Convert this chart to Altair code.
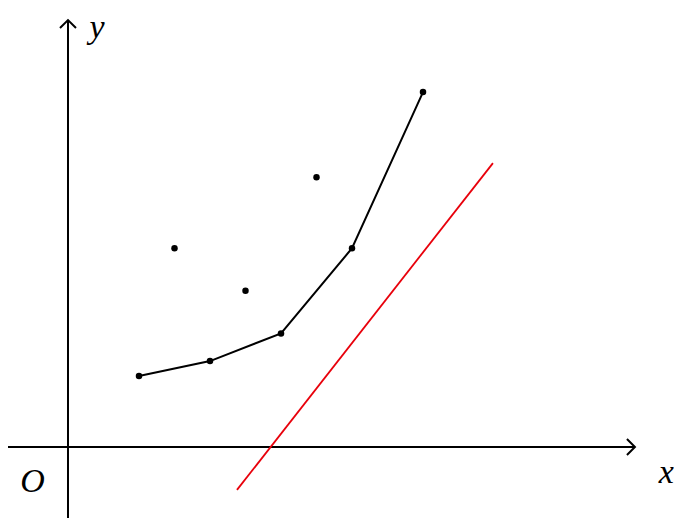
import altair as alt
import pandas as pd

# Data (in plot units)
line_x = [2, 4, 6, 8, 10]
line_y = [2.0, 2.42, 3.2, 5.6, 10.0]
iso_x = [3, 5, 7]
iso_y = [5.6, 4.4, 7.6]
red_x = [4.76, 11.97]
red_y = [-1.21, 8.0]

# Axis extents
x_axis_min, x_axis_max = -1.69, 15.97
y_axis_min, y_axis_max = -2.0, 12.03

XD = [-1.69, 17.07]
YD = [-2.03, 12.37]

xs = alt.Scale(domain=XD, nice=False, zero=False)
ys = alt.Scale(domain=YD, nice=False, zero=False)

def X(f="x"):
    return alt.X(f"{f}:Q", scale=xs, axis=None)

def Y(f="y"):
    return alt.Y(f"{f}:Q", scale=ys, axis=None)

axes_df = pd.DataFrame({
    "x": [x_axis_min, 0.0], "y": [0.0, y_axis_min],
    "x2": [x_axis_max, 0.0], "y2": [0.0, y_axis_max],
})
axes = alt.Chart(axes_df).mark_rule(color="black", strokeWidth=2).encode(
    x=X(), y=Y(), x2="x2:Q", y2="y2:Q"
)

arrow_r = alt.Chart(pd.DataFrame({"x": [x_axis_max], "y": [0.0]})).mark_point(
    shape="M-1,-1L0,0L-1,1", filled=False, size=256, color="black", strokeWidth=2, opacity=1
).encode(x=X(), y=Y())
arrow_u = alt.Chart(pd.DataFrame({"x": [0.0], "y": [y_axis_max]})).mark_point(
    shape="M-1,1L0,0L1,1", filled=False, size=256, color="black", strokeWidth=2, opacity=1
).encode(x=X(), y=Y())

line_df = pd.DataFrame({"x": line_x, "y": line_y})
poly = alt.Chart(line_df).mark_line(color="black", strokeWidth=2).encode(x=X(), y=Y())
poly_pts = alt.Chart(line_df).mark_circle(color="black", size=42, opacity=1).encode(x=X(), y=Y())

iso = alt.Chart(pd.DataFrame({"x": iso_x, "y": iso_y})).mark_circle(
    color="black", size=42, opacity=1
).encode(x=X(), y=Y())

red = alt.Chart(pd.DataFrame({"x": red_x, "y": red_y})).mark_line(
    color="#e8000b", strokeWidth=1.8
).encode(x=X(), y=Y())

labels_df = pd.DataFrame({
    "x": [0.82, 16.85, -1.0],
    "y": [11.8, -0.72, -0.99],
    "t": ["y", "x", "O"],
})
labels = alt.Chart(labels_df).mark_text(
    font="Liberation Serif", fontStyle="italic", fontSize=34, color="black",
    align="center", baseline="middle"
).encode(x=X(), y=Y(), text="t:N")

chart = alt.layer(axes, arrow_r, arrow_u, red, poly, poly_pts, iso, labels).properties(
    width=666, height=511, padding=0, autosize=alt.AutoSizeParams(type="none")
).configure_view(stroke=None)

chart.save("out.html", embed_options={"renderer": "svg", "actions": False})
